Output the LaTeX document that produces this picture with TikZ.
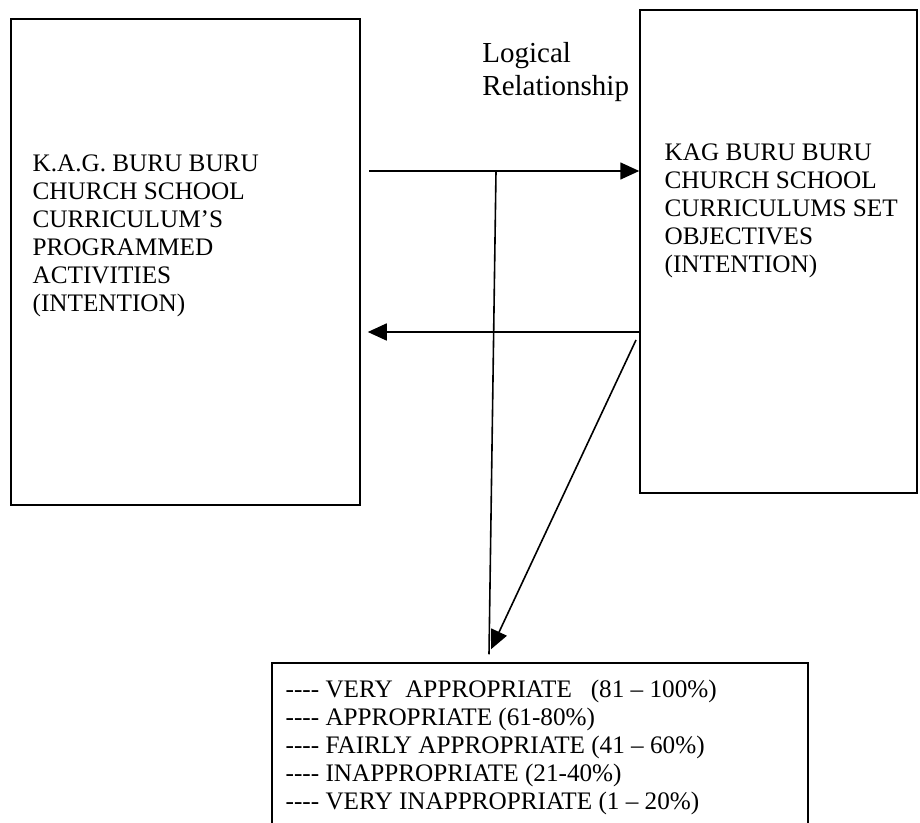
\documentclass[tikz,border=0pt]{standalone}
\usepackage{fontspec}
\setmainfont{Liberation Serif}
\usetikzlibrary{arrows.meta, positioning}

\begin{document}
\begin{tikzpicture}[x=0.5pt, y=-0.5pt,
        panel/.style={draw, rectangle, line width=0.75pt},
        panel_text/.style={inner sep=0pt, align=left, font=\fontsize{12.6}{14}\selectfont},
        flow/.style={line width=0.8pt, -{Triangle[length=9.5pt, width=8.5pt]}},
        plain_link/.style={line width=0.8pt}]

        % Page frame
        \fill[white] (0,0) rectangle (920,823);
        \useasboundingbox (0,0) rectangle (920,823);

        % The two curriculum boxes
        \node[panel, minimum width=174.5pt, minimum height=243pt] (lbox) at (185.5,262) {};
        \node[panel, minimum width=138.5pt, minimum height=241.5pt] (rbox) at (778.5,251.5) {};
        \node[panel_text, below right=68pt and 11pt of lbox.north west] (ltext)
            {K.A.G. BURU BURU\\CHURCH SCHOOL\\CURRICULUM’S\\PROGRAMMED\\ACTIVITIES\\(INTENTION)};
        \node[panel_text, below right=67pt and 12.5pt of rbox.north west] (rtext)
            {KAG BURU BURU\\CHURCH SCHOOL\\CURRICULUMS SET\\OBJECTIVES\\(INTENTION)};

        % Rating scale box (runs past the bottom of the page)
        \node[panel, minimum width=268pt, minimum height=90pt] (scale) at (540,753) {};
        \node[panel_text, below right=8.5pt and 7pt of scale.north west] (stext)
            {-{}-{}-{}- VERY\ \ APPROPRIATE\ \ \ (81 – 100\%)\\
             -{}-{}-{}- APPROPRIATE (61-80\%)\\
             -{}-{}-{}- FAIRLY APPROPRIATE (41 – 60\%)\\
             -{}-{}-{}- INAPPROPRIATE (21-40\%)\\
             -{}-{}-{}- VERY INAPPROPRIATE (1 – 20\%)};

        % Label over the link
        \node[inner sep=0pt, align=left, font=\fontsize{14.5}{16.5}\selectfont, anchor=north west] (logic) at (482,42)
            {Logical\\Relationship};

        % Links
        \coordinate (fwd) at (369,171);
        \coordinate (back) at (639,332);
        \coordinate (junc) at (496,171);
        \coordinate (diag) at (636,340);

        \draw[flow] (fwd) -- (fwd -| rbox.west);
        \draw[flow] (back -| rbox.west) -- ([xshift=3.5pt]back -| lbox.east);
        \draw[plain_link] (junc) -- ([shift={(-3.5pt,4pt)}]junc |- scale.north);
        \draw[flow] (diag) -- ([shift={(-2.5pt,6.5pt)}]junc |- scale.north);
    \end{tikzpicture}
\end{document}
